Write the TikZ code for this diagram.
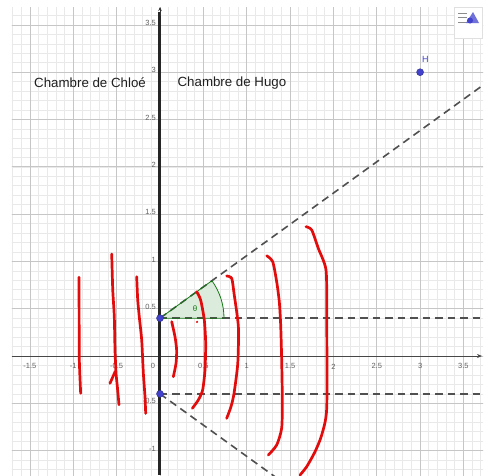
\documentclass[tikz,border=0pt]{standalone}
\usepackage{fontspec}
\setmainfont{Liberation Sans}
\usetikzlibrary{arrows.meta}
\definecolor{gmajor}{RGB}{198,198,198}
\definecolor{gminor}{RGB}{233,233,233}
\definecolor{ptblue}{RGB}{66,66,205}
\definecolor{angfill}{RGB}{220,236,220}
\definecolor{angline}{RGB}{20,120,20}
\definecolor{pen}{RGB}{226,12,12}
\definecolor{dashcol}{RGB}{80,80,80}
\begin{document}
\begin{tikzpicture}[x=86.7pt,y=94.6pt,
  minorgrid/.style={gminor,line width=0.6pt},
  majorgrid/.style={gmajor,line width=0.8pt},
  ticklab/.style={font=\fontsize{7.5}{8}\selectfont,text=black!62,inner sep=0pt},
  roomlab/.style={font=\fontsize{13.3}{15}\selectfont,text=black!88,inner sep=0pt},
  ray/.style={dashcol,line width=1.6pt,dash pattern=on 7.5pt off 5pt},
  penline/.style={pen,line width=2.7pt,line cap=round,line join=round},
  gpoint/.style={circle,fill=ptblue,draw=ptblue!70!black,line width=0.4pt,inner sep=0pt,minimum size=7pt}
]
\useasboundingbox[fill=white] (-160pt,-119pt) rectangle (325pt,356pt);
% grid
\begin{scope}
\clip (-148pt,-119pt) rectangle (323pt,349pt);
\foreach \i in {-18,...,38} \draw[minorgrid] (\i/10,-1.3) -- (\i/10,3.8);
\foreach \j in {-13,...,38} \draw[minorgrid] (-1.8,\j/10) -- (3.8,\j/10);
\foreach \i in {-4,...,8} \draw[majorgrid] (\i/2,-1.3) -- (\i/2,3.8);
\foreach \j in {-3,...,8} \draw[majorgrid] (-1.8,\j/2) -- (3.8,\j/2);
\end{scope}
% named points
\coordinate (O) at (0,0);
\coordinate (XL) at (-148pt,0pt);
\coordinate (XR) at (322pt,0pt);
\coordinate (YT) at (0pt,349pt);
\coordinate (YB) at (0pt,-119pt);
\coordinate (A) at (0,0.4);
\coordinate (B) at (0,-0.4);
\coordinate (RU) at (3.8,2.912);
\coordinate (RD) at (1.45,-1.358);
\coordinate (HU) at (3.8,0.4);
\coordinate (HD) at (3.8,-0.4);
% x axis
\draw[black!72,line width=0.8pt,-{Stealth[length=5pt,width=4pt]}] (XL) -- (XR);
% angle sector fill
\fill[angfill] (A) -- ++(64pt,0pt) arc[start angle=0,end angle=35.8,radius=64pt] -- cycle;
% rays
\begin{scope}
\clip (-148pt,-119pt) rectangle (323pt,349pt);
\draw[ray] (A) -- (RU);
\draw[ray] (B) -- (RD);
\draw[ray] (A) -- (HU);
\draw[ray] (B) -- (HD);
\end{scope}
\draw[angline,line width=0.8pt] (A) -- ++(64pt,0pt) arc[start angle=0,end angle=35.8,radius=64pt] -- cycle;
\node[text=angline,font=\fontsize{8}{9}\selectfont,inner sep=0pt] (theta) at (0.404,0.497) {θ};
% y axis (wall)
\draw[black!85,line width=3pt] (0pt,344pt) -- (YB);
\draw[black!80,line width=0.8pt,-{Stealth[length=4pt,width=3.5pt]}] (0pt,340pt) -- (YT);
% tick labels
\foreach \v/\t [count=\k] in {-1.5/-1.5,-1/-1,-0.5/-0.5,0.5/0.5,1/1,1.5/1.5,2/2,2.5/2.5,3/3,3.5/3.5}
  \node[ticklab] (xl\k) at (\v,-0.11) {\t};
\node[ticklab] (zl) at (-0.08,-0.11) {0};
\foreach \v/\t [count=\k] in {3.5/3.5,3/3,2.5/2.5,2/2,1.5/1.5,1/1,0.5/0.5,-0.5/-0.5,-1/-1}
  \node[ticklab,anchor=east] (yl\k) at (-0.045,\v+0.02) {\t};
% room labels
\node[roomlab] (chloe) at (-0.807,2.886) {Chambre de Chloé};
\node[roomlab] (hugo) at (0.83,2.886) {Chambre de Hugo};
% red pen strokes
\draw[penline] plot[smooth,tension=0.3] coordinates {(-0.934,0.832) (-0.931,-0.007) (-0.922,-0.25) (-0.915,-0.394)};
\draw[penline] plot[smooth,tension=0.3] coordinates {(-0.557,1.078) (-0.545,0.698) (-0.527,0.415) (-0.519,0.063) (-0.507,-0.183) (-0.492,-0.324) (-0.473,-0.515)};
\draw[penline] (-0.515,-0.16) -- (-0.577,-0.289);
\draw[penline] plot[smooth,tension=0.3] coordinates {(-0.269,0.838) (-0.257,0.592) (-0.239,0.415) (-0.211,0.169) (-0.192,-0.183) (-0.173,-0.430) (-0.165,-0.607)};
\draw[penline] plot[smooth,tension=0.4] coordinates {(0.135,0.363) (0.173,0.204) (0.192,0.063) (0.185,-0.077) (0.154,-0.219)};
\draw[penline] plot[smooth,tension=0.4] coordinates {(0.423,0.680) (0.469,0.592) (0.511,0.381) (0.527,0.134) (0.519,-0.148) (0.492,-0.359) (0.442,-0.465) (0.373,-0.553)};
\draw[penline] plot[smooth,tension=0.4] coordinates {(0.769,0.846) (0.827,0.821) (0.854,0.662) (0.904,0.310) (0.897,-0.077) (0.854,-0.395) (0.819,-0.536) (0.769,-0.659)};
\draw[penline] plot[smooth,tension=0.4] coordinates {(1.231,1.060) (1.300,0.997) (1.346,0.785) (1.376,0.574) (1.392,0.328) (1.403,-0.025) (1.411,-0.483) (1.403,-0.765) (1.346,-0.941) (1.249,-1.047)};
\draw[penline] plot[smooth,tension=0.4] coordinates {(1.684,1.367) (1.750,1.332) (1.826,1.138) (1.915,0.909) (1.923,0.433) (1.923,-0.553) (1.865,-0.835) (1.788,-1.012) (1.692,-1.170) (1.615,-1.258)};
\fill[pen] (0.427,0.36) circle (1.2pt);
% points
\node[gpoint] (PA) at (A) {};
\node[gpoint] (PB) at (B) {};
\node[gpoint] (H) at (3,3) {};
\node[text=ptblue,font=\fontsize{9}{10}\selectfont,inner sep=0pt] (Hl) at (3.06,3.13) {H};
% style-bar icon
\begin{scope}[x=1pt,y=1pt]
\draw[black!12,fill=white,line width=0.5pt] (294,349) rectangle (322,318);
\foreach \yy in {343,339,334} \draw[black!45,line width=1pt] (298,\yy) -- (307,\yy);
\fill[ptblue!75] (306,333) -- (319,333) -- (313,344) -- cycle;
\fill[ptblue] (310,335.5) circle (3pt);
\end{scope}
\end{tikzpicture}
\end{document}
